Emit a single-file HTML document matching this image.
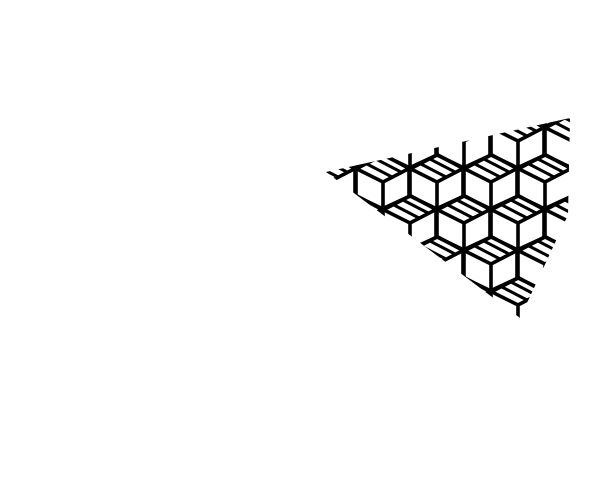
<!DOCTYPE html>
<html><head><style>html,body{margin:0;padding:0;background:#fff;width:615px;height:494px;overflow:hidden}</style></head>
<body>
<svg width="615" height="494" xmlns="http://www.w3.org/2000/svg">
<defs>
<g id="c" fill="none" stroke="#000" stroke-width="3.6" stroke-linecap="butt">
  <path d="M0,-27 L27,-14 L27,14 L0,28 L-28,13 L-28,-14 Z"/>
  <path d="M-28,-14 L0,0 L27,-14 M0,0 L0,28"/>
  <path d="M-18,-19 L9,-5 M-8,-23.5 L19,-9.5" stroke-width="3"/>
</g>
<pattern id="p" patternUnits="userSpaceOnUse" x="383" y="182" width="54" height="82">
  <use href="#c" x="0" y="0"/><use href="#c" x="54" y="0"/>
  <use href="#c" x="0" y="82"/><use href="#c" x="54" y="82"/>
  <use href="#c" x="27" y="41"/><use href="#c" x="-27" y="41"/><use href="#c" x="81" y="41"/>
  <use href="#c" x="27" y="-41"/><use href="#c" x="27" y="123"/>
</pattern>
</defs>
<polygon points="326,172 570,118 568,215 520,318" fill="url(#p)"/>
</svg>
</body></html>
